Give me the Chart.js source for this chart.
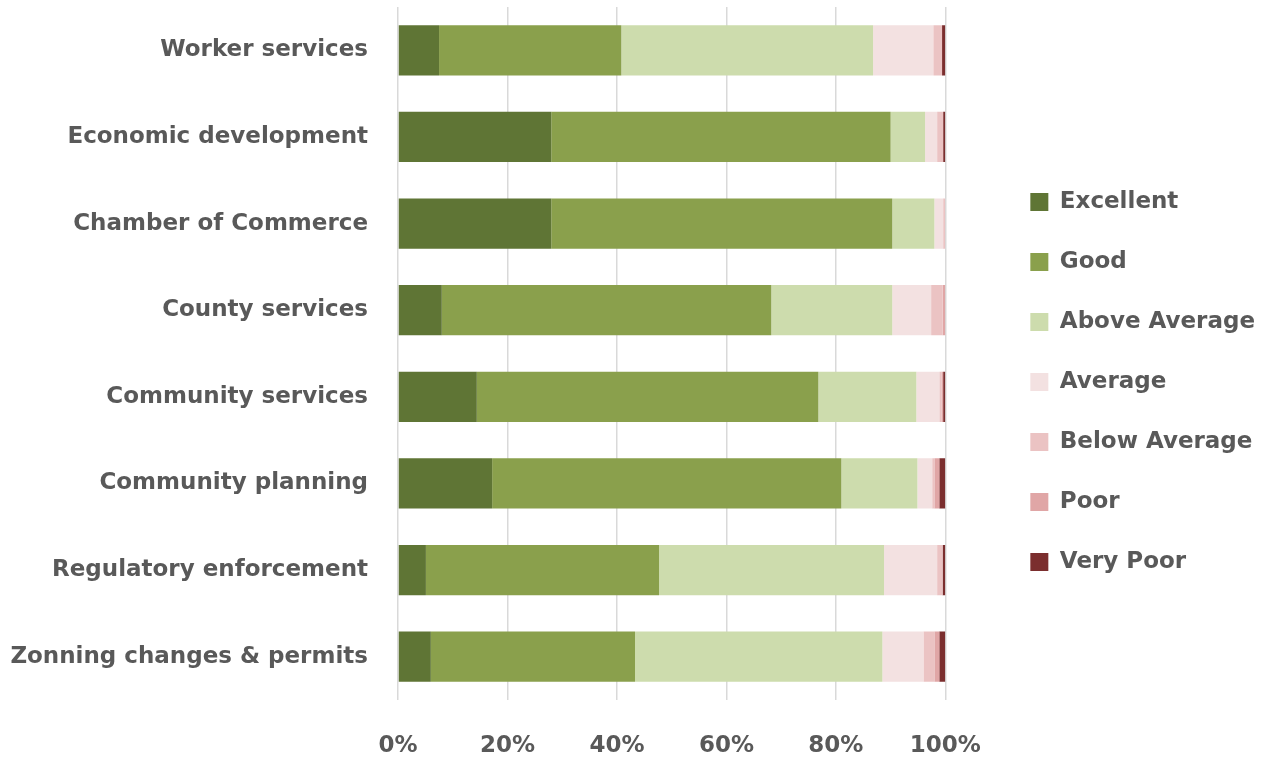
<!DOCTYPE html>
<html>
<head>
<meta charset="utf-8">
<script src="https://cdn.jsdelivr.net/npm/chart.js@4/dist/chart.umd.min.js"></script>
<style>
  html, body { margin: 0; padding: 0; background: #fff; }
  #wrap { width: 1275px; height: 757px; }
</style>
</head>
<body>
<div id="wrap"><canvas id="chart"></canvas></div>
<script>
const categories = [
  'Worker services',
  'Economic development',
  'Chamber of Commerce',
  'County services',
  'Community services',
  'Community planning',
  'Regulatory enforcement',
  'Zonning changes & permits'
];

// share of responses per rating, in percent
const excellent    = [7.5, 28.0, 28.0, 8.0, 14.4, 17.2, 5.1, 6.0];
const good         = [33.3, 62.0, 62.3, 60.2, 62.4, 63.8, 42.6, 37.3];
const aboveAverage = [46.0, 6.3, 7.7, 22.1, 17.9, 13.9, 41.1, 45.2];
const average      = [11.0, 2.2, 1.6, 7.1, 4.2, 2.7, 9.7, 7.5];
const belowAverage = [1.6, 1.1, 0.4, 2.1, 0.4, 0.4, 1.0, 2.0];
const poor         = [0.0, 0.0, 0.0, 0.5, 0.3, 0.9, 0.0, 0.9];
const veryPoor     = [0.6, 0.4, 0.0, 0.0, 0.4, 1.1, 0.5, 1.1];

const xTicks = [0, 20, 40, 60, 80, 100];

const series = [
  { label: 'Excellent', data: excellent, color: '#5f7535' },
  { label: 'Good', data: good, color: '#8aa04c' },
  { label: 'Above Average', data: aboveAverage, color: '#cddcad' },
  { label: 'Average', data: average, color: '#f3e1e1' },
  { label: 'Below Average', data: belowAverage, color: '#ebc3c3' },
  { label: 'Poor', data: poor, color: '#e0a6a6' },
  { label: 'Very Poor', data: veryPoor, color: '#7b2e2e' }
];

const font = { family: 'DejaVu Sans', size: 23, weight: 'bold' };
const textColor = '#595959';

new Chart(document.getElementById('chart'), {
  type: 'bar',
  data: {
    labels: categories,
    datasets: series.map(s => ({
      label: s.label,
      data: s.data,
      backgroundColor: s.color,
      borderWidth: 0,
      barPercentage: 0.58,
      categoryPercentage: 1
    }))
  },
  options: {
    indexAxis: 'y',
    responsive: true,
    maintainAspectRatio: false,
    animation: false,
    layout: { padding: { top: 7, bottom: 0, left: 0, right: 10 } },
    plugins: {
      legend: {
        position: 'right',
        maxWidth: 320,
        labels: {
          font: font,
          color: textColor,
          boxWidth: 18,
          boxHeight: 18,
          padding: 37
        }
      },
      tooltip: { enabled: false }
    },
    scales: {
      x: {
        stacked: true,
        min: 0,
        max: 100,
        afterBuildTicks: axis => { axis.ticks = xTicks.map(v => ({ value: v })); },
        afterFit: axis => {
          axis.height = 57;
          axis.paddingLeft = 0;
          axis.paddingRight = 0;
        },
        ticks: {
          font: font,
          color: textColor,
          padding: 32,
          maxRotation: 0,
          callback: v => v + '%'
        },
        grid: { color: '#d9d9d9', lineWidth: 1.5, drawTicks: false },
        border: { display: false }
      },
      y: {
        stacked: true,
        afterFit: axis => {
          axis.width = 398;
          axis.paddingTop = 0;
          axis.paddingBottom = 0;
        },
        ticks: { font: font, color: textColor, padding: 30 },
        grid: { display: false, drawTicks: false },
        border: { display: false }
      },
      // empty strip between the plot and the legend
      gap: {
        type: 'category',
        position: 'right',
        afterFit: axis => {
          axis.width = 48;
          axis.paddingTop = 0;
          axis.paddingBottom = 0;
        },
        ticks: { display: false },
        grid: { display: false, drawTicks: false },
        border: { display: false }
      }
    }
  }
});
</script>
</body>
</html>
